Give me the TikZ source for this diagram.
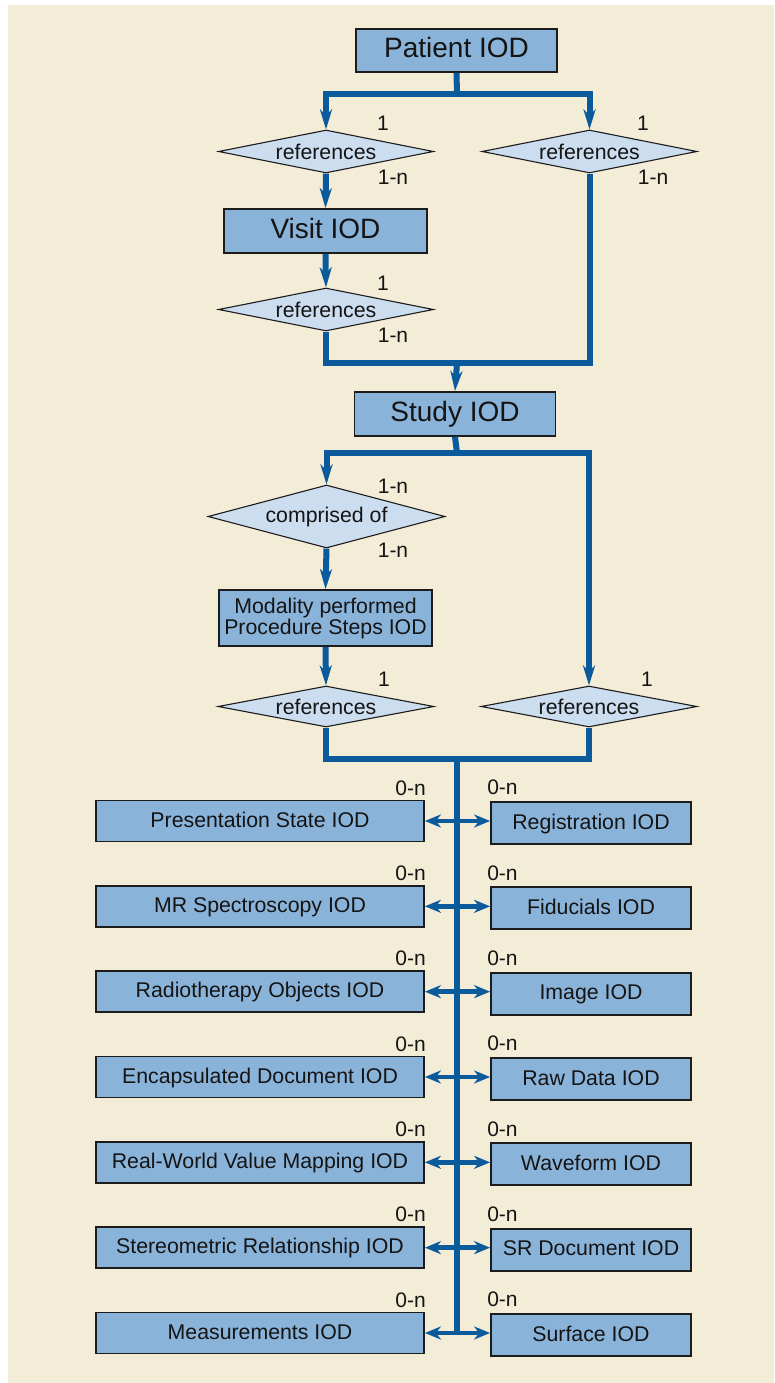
\documentclass[tikz,border=0pt]{standalone}
\usepackage{fontspec}
\setmainfont{Liberation Sans}
\usetikzlibrary{shapes.geometric,arrows.meta,calc}

\definecolor{paper}{HTML}{F3ECD6}
\definecolor{boxfill}{HTML}{8AB3D9}
\definecolor{relfill}{HTML}{CCDDF0}
\definecolor{flow}{HTML}{0B5A9B}
\definecolor{edge}{HTML}{1C1C1C}
\definecolor{ink}{HTML}{141414}

\begin{document}
\begin{tikzpicture}[x=1pt,y=-1pt,
  boxbase/.style={draw=edge, line width=1.8pt, fill=boxfill, inner sep=0pt, text=ink},
  title/.style={boxbase, font=\fontsize{28}{30}\selectfont, text height=20pt, text depth=5pt},
  leaf/.style={boxbase, font=\fontsize{21.3}{21}\selectfont, text height=15pt, text depth=2.5pt, minimum height=41pt},
  rel/.style={diamond, aspect=5, draw=edge, line width=1.1pt, fill=relfill, inner sep=0pt,
              text=ink, font=\fontsize{21.3}{21}\selectfont},
  card/.style={inner sep=0pt, text=ink, font=\fontsize{21}{21}\selectfont},
  link/.style={draw=flow, line width=6pt},
  flowarrow/.style={link, -{Stealth[length=20pt,width=12pt,inset=6pt]}},
  both/.style={draw=flow, line width=4.5pt,
               {Stealth[length=16pt,width=13pt,inset=5pt]}-{Stealth[length=16pt,width=13pt,inset=5pt]}}
]
% canvas
\fill[white] (0,0) rectangle (774,1383);
\fill[paper] (8,5) rectangle (774,1383);

% upper hierarchy
\node[title, minimum width=201pt, minimum height=43pt] (patient) at (456.5,50.5) {Patient IOD};
\node[rel, minimum width=215pt, minimum height=43pt] (refA) at (326,151.5) {references};
\node[rel, minimum width=215pt, minimum height=43pt] (refB) at (589.5,151.5) {references};
\node[title, minimum width=203pt, minimum height=44pt] (visit) at (325.5,231) {Visit IOD};
\node[rel, minimum width=215pt, minimum height=43pt] (refC) at (326,309.5) {references};
\node[title, minimum width=201pt, minimum height=44pt] (study) at (455,414) {Study IOD};
\node[rel, aspect=3.8, minimum width=237pt, minimum height=63pt] (comp) at (326.5,516.5) {comprised of};
\node[boxbase, minimum width=213pt, minimum height=56pt, align=center,
      font=\fontsize{21.3}{21}\selectfont] (mpps) at (325.5,618) {Modality performed\\Procedure Steps IOD};
\node[rel, minimum width=216pt, minimum height=41pt] (refD) at (326,706.5) {references};
\node[rel, minimum width=216pt, minimum height=41pt] (refE) at (589,706.5) {references};

% cardinalities
\node[card] (cA1) at (383,123) {1};
\node[card] (cA2) at (393,177) {1-n};
\node[card] (cB1) at (643,123) {1};
\node[card] (cB2) at (653,177) {1-n};
\node[card] (cC1) at (383,283) {1};
\node[card] (cC2) at (393,335) {1-n};
\node[card] (cD1) at (393,486) {1-n};
\node[card] (cD2) at (393,550) {1-n};
\node[card] (cE1) at (384,679) {1};
\node[card] (cF1) at (647,679) {1};

% junctions
\coordinate (j1) at (457,94);
\coordinate (j2) at (457,363);
\coordinate (j3) at (457,453);
\coordinate (j4) at (457,759);

% upper connectors
\draw[link] (patient.south) -- (j1);
\draw[flowarrow] (j1) -| (refA.north);
\draw[flowarrow] (j1) -| (refB.north);
\draw[flowarrow] (refA.south) -- (visit.north);
\draw[flowarrow] (visit.south) -- (refC.north);
\draw[link] (refC.south) |- (j2) -| (refB.south);
\draw[flowarrow] (j2) -- (study.north);
\draw[link] (study.south) -- (j3);
\draw[flowarrow] (j3) -| (comp.north);
\draw[flowarrow] (j3) -| (refE.north);
\draw[flowarrow] (comp.south) -- (mpps.north);
\draw[flowarrow] (mpps.south) -- (refD.north);
\draw[link] (refD.south) |- (j4) -| (refE.south);

% referenced objects
\foreach \k/\lname/\rname in {
  0/Presentation State IOD/Registration IOD,
  1/MR Spectroscopy IOD/Fiducials IOD,
  2/Radiotherapy Objects IOD/Image IOD,
  3/Encapsulated Document IOD/Raw Data IOD,
  4/Real-World Value Mapping IOD/Waveform IOD,
  5/Stereometric Relationship IOD/SR Document IOD,
  6/Measurements IOD/Surface IOD}{
  \pgfmathsetmacro{\yy}{821+85.33*\k}
  \node[leaf, minimum width=328pt] (L\k) at (260,\yy) {\lname};
  \node[leaf, minimum width=200pt, minimum height=42pt] (R\k) at (591,\yy+2) {\rname};
  \node[card, anchor=south east] (cl\k) at ($(L\k.north east)+(1,-4)$) {0-n};
  \node[card, anchor=south west] (cr\k) at ($(R\k.north west)+(-3,-6)$) {0-n};
}
\draw[link] (j4) -- (L6.east -| j4);
\foreach \k in {0,...,6}{
  \draw[both] (L\k.east) -- (L\k.east -| R\k.west);
}
\end{tikzpicture}
\end{document}
